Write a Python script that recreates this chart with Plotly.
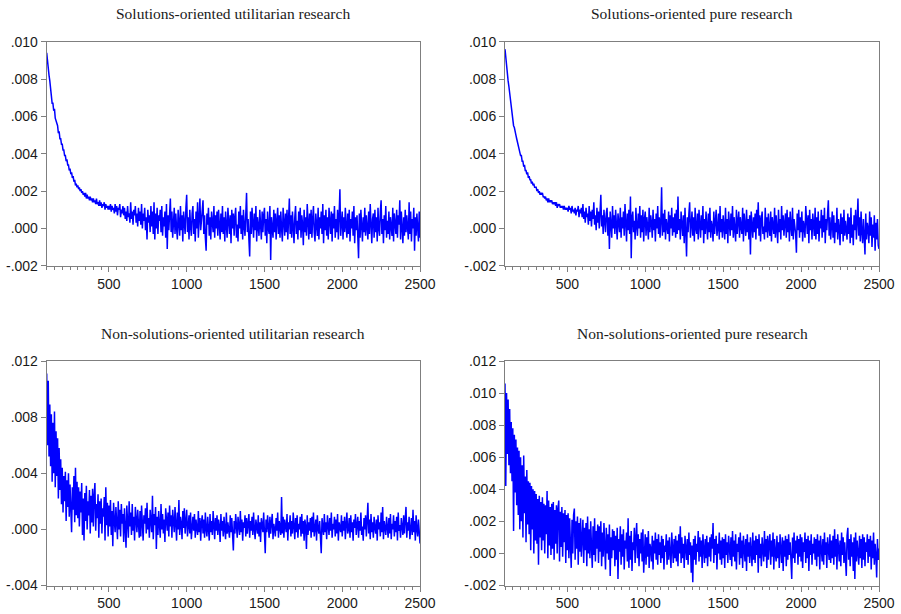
import plotly.graph_objects as go

# x grid (observation index), one value every 5 steps
x_vals = list(range(100, 2501, 5))
SCALE = 1e-4  # values below are in units of 0.0001

titles = ["Solutions-oriented utilitarian research",
          "Solutions-oriented pure research",
          "Non-solutions-oriented utilitarian research",
          "Non-solutions-oriented pure research"]

# each line = 100 steps (20 values), last value at x=2500
so_util = [
    94, 89, 88, 82, 79, 73, 71, 67, 67, 63, 64, 59, 58, 56, 55, 51, 52, 48, 48, 45,
    45, 42, 42, 39, 39, 36, 37, 34, 34, 31, 32, 29, 30, 27, 28, 25, 26, 23, 24, 22,
    23, 21, 22, 20, 21, 19, 20, 18, 19, 17, 19, 16, 18, 16, 17, 15, 17, 15, 16, 14,
    16, 14, 15, 13, 16, 13, 14, 12, 15, 12, 14, 11, 13, 12, 14, 10, 13, 11, 12, 10,
    12, 10, 13, 9, 12, 10, 11, 8, 13, 9, 12, 7, 11, 10, 13, 6, 10, 8, 12, 7,
    11, 5, 9, 4, 12, 6, 8, 3, 14, 5, 9, 2, 10, 7, 12, 3, 8, 1, 11, 4,
    9, 2, 13, 0, 8, 4, 11, -1, 6, -6, 10, 3, 7, -2, 12, 1, 9, -3, 14, -6,
    8, 0, 11, -3, 7, 4, 10, -2, 12, -4, 6, 1, 9, -5, 13, -11, 7, -1, 10, 16,
    -2, 9, -5, 6, 11, -3, 8, 0, -6, 10, 4, -4, 12, -1, 7, -7, 9, 2, -3, 11,
    18, -2, 6, -6, 10, 1, -4, 8, 12, -3, 5, -7, 9, 0, 14, -5, 7, 16, -1, 4,
    10, 15, -3, 7, -5, -12, 8, 2, 11, -4, 6, -6, 9, 1, -2, 12, -5, 7, 0, 9,
    -4, 10, 3, -6, 8, -2, 12, -3, 6, -7, 9, 1, -5, 11, 4, -3, 7, -8, 10, 0,
    8, -4, 6, 11, -5, 2, -7, 9, 0, 12, -3, 7, -6, 10, 1, -4, 8, 19, -2, 5,
    -6, -15, 9, -3, 11, 2, -5, 8, -1, 12, -7, 6, 0, -4, 10, 3, -6, 9, -2, 7,
    11, -4, 5, -8, 9, 0, -3, 12, -17, 6, 1, -5, 10, -2, 8, -6, 4, 11, -3, 7,
    -5, 9, 0, -7, 11, 3, -4, 8, -2, 10, -6, 5, 16, -3, 7, -5, 9, 1, -8, 6,
    12, -3, 4, -6, 9, -1, 11, -5, 7, 2, -9, 10, -2, 6, -4, 13, 0, -6, 8, -3,
    10, -5, 5, 12, -2, -7, 8, 1, -4, 11, -6, 6, 0, 9, -3, 13, -8, 7, -1, 10,
    -4, 6, -6, 11, 2, -3, 9, -7, 8, 0, 12, -5, 5, -2, 10, -6, 7, 21, -4, 3,
    9, -6, 6, -2, 11, 1, -5, 8, -3, 10, -7, 5, 0, 9, -4, 12, -8, 6, -1, 7,
    -3, -16, 8, -5, 10, 2, -7, 6, -2, 11, -4, 7, 0, -6, 9, -3, 13, -1, -8, 5,
    8, -5, 10, -2, 6, -7, 11, 0, -4, 9, 15, -3, 5, -8, 7, -1, 12, -5, 4, -3,
    9, -6, 6, 1, -4, 11, -7, 8, 0, -3, 10, -5, 7, 2, 15, -6, 9, -2, -8, 6,
    -4, 10, -2, 7, 1, -6, 14, -3, 9, -7, 5, 0, 11, -12, 6, -4, 8, -1, -7, 9,
    -5]

so_pure = [
    96, 91, 89, 83, 79, 76, 72, 68, 66, 61, 58, 55, 54, 51, 50, 48, 46, 44, 43, 41,
    39, 39, 36, 36, 33, 34, 31, 31, 29, 30, 27, 28, 26, 26, 24, 25, 23, 24, 22, 22,
    22, 20, 21, 19, 20, 18, 19, 18, 19, 17, 17, 16, 17, 15, 16, 14, 16, 14, 15, 14,
    15, 13, 14, 13, 14, 12, 14, 11, 13, 12, 13, 11, 12, 11, 12, 10, 12, 10, 11, 10,
    11, 9, 12, 10, 11, 8, 12, 9, 10, 8, 11, 7, 10, 9, 12, 6, 10, 8, 11, 6,
    13, 5, 9, 3, 11, 6, 8, 2, 12, 4, 9, 1, 10, 5, 14, 2, 7, -1, 11, 3,
    9, 0, 12, 18, 1, 7, -3, 10, 4, -2, 8, 11, -4, 6, -11, 9, 2, -5, 12, 0,
    7, -3, 10, 1, -6, 8, 3, -2, 11, -5, 6, 0, 9, -4, 13, 2, -7, 8, -1, 10,
    -3, 17, -16, 6, 9, -2, 4, -6, 11, 1, -4, 8, 0, 12, -5, 7, -2, 10, -7, 5,
    9, -4, 6, 1, -6, 11, -2, 7, 3, -5, 10, -1, 5, -7, 8, 0, 12, -3, 6, -5,
    4, 22, -4, 8, -2, 10, -6, 5, 1, -3, 9, -7, 7, 0, 11, -4, 6, -2, 8, -5,
    10, -3, 17, -1, 5, -6, 9, 2, -4, 7, -8, 11, 0, -15, 6, -2, 8, 14, -5, 4,
    9, -4, 6, -7, 11, 0, -3, 8, -6, 10, 2, -5, 7, -1, 12, -8, 5, -3, 9, 0,
    -6, 8, -2, 11, -5, 4, 1, -7, 9, -3, 6, 10, -4, 0, 8, -6, 12, -2, 5, -5,
    7, 0, -6, 11, -3, 5, -8, 9, 2, -4, 8, -1, 12, -5, 6, 0, -7, 10, -3, 4,
    9, -5, 6, 1, -3, 11, -7, 8, 0, -4, 10, -2, 5, -6, 7, -14, 9, 3, -5, 6,
    -2, 8, -6, 10, 0, 14, -4, 7, -7, 5, 9, -3, 1, -6, 11, -2, 6, -5, 8, 0,
    -4, 9, -7, 6, 2, -3, 11, -5, 7, 0, -8, 10, -2, 5, -6, 12, -1, 7, -4, 3,
    8, -5, 10, -2, 6, -7, 9, 1, -4, 11, -6, 5, 0, -3, -13, 8, -1, 10, -5, 6,
    -2, 9, -7, 4, 1, -5, 12, 0, -3, 7, -8, 10, -1, 5, -6, 8, 2, -4, 11, -6,
    6, -3, 9, -7, 4, 0, 10, -5, 7, -2, 11, -8, 5, -1, 8, 15, -4, 6, -6, 3,
    9, -5, 7, -8, 3, -2, 11, -6, 5, 0, -9, 8, -3, 6, -7, 10, -4, 4, -1, -6,
    8, -3, 6, -8, 11, -5, 2, -9, 7, -1, 10, -6, 4, 16, -4, 6, -7, 9, -2, -8,
    5, -3, -14, 8, -6, 3, 0, -8, 9, -4, 6, -10, 2, -5, 7, -12, 3, -6, 5, -9,
    -11]

nso_util = [
    111, 60, 106, 52, 89, 45, 82, 34, 76, 40, 84, 30, 70, 38, 65, 22, 58, 28, 50, 18,
    44, 12, 38, 20, 41, 6, 35, 16, 40, 9, 32, 18, -2, 30, 14, 38, 5, 44, 10, 34,
    8, 30, 2, 27, 12, 33, -4, 22, -8, 26, 6, 31, 0, 20, 10, 28, -3, 24, 5, 29,
    2, 24, 33, -1, 18, 8, 25, -6, 20, 4, 22, -3, 15, 9, 23, -8, 30, 3, 19, -5,
    17, 2, 21, -4, 13, -12, 19, 6, -2, 16, 8, -7, 20, 0, 14, -5, 18, 4, 11, -9,
    15, -3, -13, 17, 5, -6, 20, 2, 12, -4, 18, -1, 9, -8, 16, 3, -2, 14, 7, -6,
    13, -5, 17, 1, -8, 10, 4, 15, -3, 19, 0, 8, -6, 14, 6, -2, 24, -7, 11, 3,
    16, -14, 9, -4, 13, 2, -6, 18, 0, 11, -3, 7, -9, 15, 5, -1, 12, -5, 17, 2,
    10, -6, 14, 3, -2, 16, 6, -8, 12, 0, 21, -4, 9, 4, -7, 13, 1, 15, -3, 8,
    14, -5, 6, 10, -3, 12, -7, 4, 9, -1, 11, -6, 7, 1, -4, 13, -2, 8, -8, 5,
    10, -3, 7, -6, 12, 0, -5, 9, 3, -8, 11, -2, 6, -4, 13, 1, -7, 8, -1, 10,
    -4, 7, 2, -9, 11, -1, 6, -5, 9, 0, -7, 12, -3, 5, 1, -6, 10, -2, 8, -8,
    -15, 6, -3, 11, 0, -6, 9, 2, -4, 13, -2, 7, -8, 5, 1, 10, -5, 8, -3, 4,
    11, -6, 6, -1, 9, -4, 12, 0, -7, 7, 3, -3, 10, -5, 5, -9, 8, 1, -2, 12,
    -4, -17, 7, -2, 10, 1, -6, 9, -3, 5, 11, -7, 4, 0, -5, 8, -1, 12, -6, 6,
    2, -4, 23, -3, 9, -6, 7, 1, -2, 11, -8, 5, 0, 10, -5, 6, -3, 12, -1, -7,
    8, -2, 10, -6, 4, 0, 9, -5, 11, -3, 6, -8, 7, 2, -14, 10, -4, 5, -1, 8,
    -6, 9, -2, 12, -5, 3, 7, -8, 10, 0, -3, 6, -7, -17, 8, 1, -4, 11, -2, 5,
    -7, 10, 2, -4, 8, -1, 12, -6, 4, 0, 9, -5, 7, -3, 11, -8, 5, 1, -2, 10,
    -5, 6, -1, 9, -7, 4, 12, -3, 0, 8, -6, 10, -2, 5, -8, 7, 1, 11, -4, 3,
    9, -6, 6, -1, 12, -4, 2, -8, 8, 0, 10, -5, 4, 19, -3, 7, -7, 11, -2, 5,
    -6, 9, 1, -3, 7, -8, 10, 0, 5, -5, 12, -2, 16, -7, 6, 2, -4, 9, -1, -6,
    8, -3, 11, -7, 4, 0, 10, -5, 6, -2, 9, -8, 12, -1, 3, -6, 8, 1, -4, 10,
    -3, 7, 16, -6, 5, -1, 9, -7, 2, 8, -4, 14, -2, 6, -8, 10, 0, -5, 7, -3,
    -10]

nso_pure = [
    106, 42, 100, 62, 96, 55, 90, 50, 82, 45, 78, 14, 74, 38, 71, 30, 66, 24, 64, 15,
    60, 20, 55, 10, 61, 25, 48, 7, 52, 18, 45, 12, 44, 2, 42, 15, 40, 0, 39, 8,
    37, 6, 34, -7, 36, 10, 32, 2, 35, 8, 31, 0, 30, 12, 39, -3, 33, 5, 29, -1,
    31, 3, 32, -4, 27, 6, 30, 0, 28, 33, -5, 26, 4, 29, -2, 25, 7, 27, -6, 24,
    2, 25, -3, 22, 5, -9, 21, 0, 24, 28, -4, 20, 3, 23, -7, 19, 1, 22, -2, 18,
    21, -6, 16, 2, 19, -8, 23, 0, 15, -3, 20, 4, -9, 17, -1, 22, -5, 14, 3, 18,
    -6, 17, 1, 20, -8, 13, -2, 19, 4, -10, 16, 0, 12, -4, 18, -14, 10, -3, 15, 2,
    14, -8, 11, -4, 16, -16, 9, 1, 17, -7, 12, -2, 15, -10, 8, 3, 13, -5, 22, -9,
    11, -4, 14, -11, 7, 2, 16, -6, 10, 19, -3, 12, -8, 9, 0, 13, -5, 15, -12, 8,
    12, -7, 10, -2, 14, -9, 6, 3, -5, 11, -10, 8, 0, 13, -4, 9, -7, 12, -1, 7,
    -6, 11, -3, 9, -10, 5, 1, 12, -7, 8, -4, 10, -1, -9, 13, 2, -6, 9, -3, 11,
    -5, 8, -8, 12, 0, 17, -6, 10, -3, 6, -9, 11, 2, -4, 9, -7, 13, -1, 7, -12,
    5, -18, 9, -4, 11, -7, 6, 1, 14, -5, 10, -2, 8, -9, 12, 0, -6, 9, -3, 11,
    -8, 7, -2, 10, -5, 12, 3, 19, -6, 9, -1, 11, -10, 6, 0, 13, -4, 8, -7, 10,
    -3, 9, -9, 12, -1, 7, -6, 11, 2, -4, 10, -8, 14, -2, 8, -5, 12, -10, 6, 1,
    10, -7, 13, -3, 8, -9, 11, 0, -5, 9, -11, 12, -2, 7, -6, 10, 3, -8, 13, -4,
    8, -6, 11, -1, 9, -12, 12, -3, 6, -8, 10, 1, -5, 14, -2, 9, -9, 11, -4, 7,
    12, -7, 8, -2, 13, -10, 9, 0, -5, 11, -3, 7, -9, 12, 1, -6, 10, -11, 8, -2,
    11, -8, 9, -4, 12, -1, 7, -10, -16, 10, -3, 13, -6, 8, 0, 11, -7, 9, -2, 12,
    -5, 10, -9, 7, 1, 13, -6, 9, -3, 11, -11, 8, -1, 12, -7, 6, 0, 10, -4, 9,
    -8, 12, -2, 8, -10, 11, 3, -5, 9, -7, 13, -1, 7, -9, 10, 0, -4, 12, -6, 8,
    -3, 11, -7, 15, -2, 9, -10, 12, 0, -5, 8, -8, 13, -1, 10, -6, 7, -3, -14, 11,
    16, -4, 9, -8, 12, -2, 7, -11, 10, -16, 13, -5, 8, 0, -7, 11, -3, 9, -9, 12,
    -4, 10, -8, 7, 1, 12, -6, 9, -2, 11, -10, 8, -3, 13, -7, 6, -1, -15, 9, -4,
    3]

series = [so_util, so_pure, nso_util, nso_pure]

yticks = [
    [0.010, 0.008, 0.006, 0.004, 0.002, 0.000, -0.002],
    [0.010, 0.008, 0.006, 0.004, 0.002, 0.000, -0.002],
    [0.012, 0.008, 0.004, 0.000, -0.004],
    [0.012, 0.010, 0.008, 0.006, 0.004, 0.002, 0.000, -0.002],
]
ytick_text = [
    [".010", ".008", ".006", ".004", ".002", ".000", "-.002"],
    [".010", ".008", ".006", ".004", ".002", ".000", "-.002"],
    [".012", ".008", ".004", ".000", "-.004"],
    [".012", ".010", ".008", ".006", ".004", ".002", ".000", "-.002"],
]
yranges = [[-0.002, 0.010], [-0.002, 0.010], [-0.004, 0.012], [-0.002, 0.012]]
xticks = [500, 1000, 1500, 2000, 2500]

W, H = 901, 614
# panel boxes in pixels: (left, right, top, bottom)
boxes = [(46.7, 420, 41.7, 265.7), (505, 879, 41.7, 265.7),
         (46.7, 420, 361, 585.5), (505, 879, 361, 585.5)]
title_y = [13, 13, 333, 333]

fig = go.Figure()
layout = dict(width=W, height=H, autosize=False,
              margin=dict(l=0, r=0, t=0, b=0, pad=0, autoexpand=False),
              paper_bgcolor="white", plot_bgcolor="white",
              showlegend=False, annotations=[])

tick_font = dict(family="Liberation Sans, Arial, sans-serif", size=14, color="#1a1a1a")
axis_col = "#7f7f7f"

for i, vals in enumerate(series):
    assert len(vals) == len(x_vals), (i, len(vals))
    l, r, t, b = boxes[i]
    n = "" if i == 0 else str(i + 1)
    fig.add_trace(go.Scatter(x=x_vals, y=[v * SCALE for v in vals], mode="lines",
                             line=dict(color="#0000ff", width=1.5),
                             xaxis="x" + n, yaxis="y" + n, hoverinfo="skip"))
    layout["xaxis" + n] = dict(domain=[l / W, r / W], anchor="y" + n,
                               range=[100, 2500], tickvals=xticks,
                               ticktext=[str(v) for v in xticks],
                               ticks="outside", ticklen=5, tickcolor=axis_col,
                               minor=dict(dtick=50, ticks="outside", ticklen=3,
                                          tickcolor=axis_col, showgrid=False),
                               showline=True, mirror=True, linecolor=axis_col,
                               linewidth=1, showgrid=False, zeroline=False,
                               automargin=False, tickfont=tick_font)
    layout["yaxis" + n] = dict(domain=[1 - b / H, 1 - t / H], anchor="x" + n,
                               range=yranges[i], tickvals=yticks[i],
                               ticktext=ytick_text[i],
                               ticks="outside", ticklen=5, tickcolor=axis_col,
                               showline=True, mirror=True, linecolor=axis_col,
                               linewidth=1, showgrid=False, zeroline=False,
                               automargin=False, tickfont=tick_font)
    layout["annotations"].append(dict(text=titles[i], xref="paper", yref="paper",
                                      x=(l + r) / 2 / W, y=1 - title_y[i] / H,
                                      xanchor="center", yanchor="middle",
                                      showarrow=False,
                                      font=dict(family="Liberation Serif, Times New Roman, serif",
                                                size=15.5, color="#1a1a1a")))

fig.update_layout(**layout)
fig.write_html("out.html")
